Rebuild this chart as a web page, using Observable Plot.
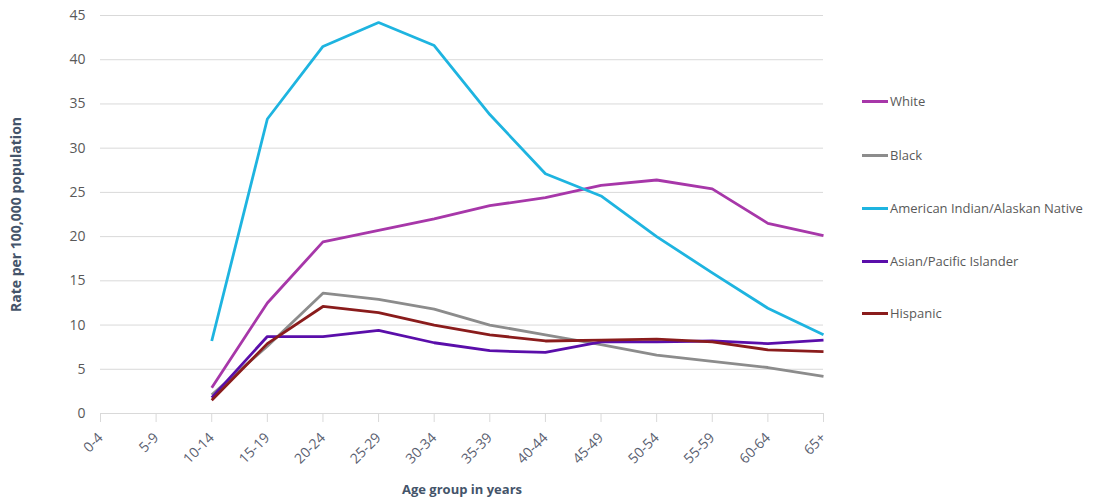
<!DOCTYPE html>
<html>
<head>
<meta charset="utf-8">
<script src="https://cdn.jsdelivr.net/npm/d3@7"></script>
<script src="https://cdn.jsdelivr.net/npm/@observablehq/plot@0.6"></script>
<style>
  html, body { margin: 0; padding: 0; background: #fff; }
  #wrap { position: relative; width: 1099px; height: 500px; }
  #legend { position: absolute; left: 862px; top: 0; font-family: "Open Sans", sans-serif; font-size: 13px; color: #595959; }
  .item { position: absolute; left: 0; display: flex; align-items: center; white-space: nowrap; transform: translateY(-50%); }
  .swatch { width: 26px; height: 3px; margin-right: 2px; }
</style>
</head>
<body>
<div id="wrap"><div id="legend"></div></div>
<script>
const ages = ["0-4","5-9","10-14","15-19","20-24","25-29","30-34","35-39","40-44","45-49","50-54","55-59","60-64","65+"];
const series = ["White","Black","American Indian/Alaskan Native","Asian/Pacific Islander","Hispanic"];
const colors = ["#A737A9","#8C8C8C","#1EB4E0","#5A0EAA","#8A1C1C"];
// values start at 10-14 (null = no data)
const white    = [null,null,2.9,12.5,19.4,20.7,22.0,23.5,24.4,25.8,26.4,25.4,21.5,20.1];
const black    = [null,null,2.1,7.6,13.6,12.9,11.8,10.0,8.9,7.8,6.6,5.9,5.2,4.2];
const aian     = [null,null,8.2,33.3,41.5,44.2,41.6,33.8,27.1,24.6,20.0,15.9,11.9,8.9];
const asian    = [null,null,1.8,8.7,8.7,9.4,8.0,7.1,6.9,8.1,8.1,8.2,7.9,8.3];
const hispanic = [null,null,1.5,7.9,12.1,11.4,10.0,8.9,8.2,8.3,8.4,8.1,7.2,7.0];
const yTicks = [0,5,10,15,20,25,30,35,40,45];

const valueArrays = [white, black, aian, asian, hispanic];
const rows = [];
series.forEach((s, i) => {
  valueArrays[i].forEach((v, j) => {
    if (v != null) rows.push({series: s, age: ages[j], value: v});
  });
});

const chart = Plot.plot({
  width: 1099,
  height: 500,
  marginLeft: 100,
  marginRight: 276,
  marginTop: 15,
  marginBottom: 87,
  style: {fontFamily: "'Open Sans', sans-serif", fontSize: "13px", color: "#595959", background: "#fff"},
  x: {type: "point", domain: ages, padding: 0, round: false},
  y: {domain: [0, 45]},
  color: {domain: series, range: colors},
  marks: [
    Plot.gridY(yTicks, {stroke: "#D9D9D9", strokeOpacity: 1, strokeWidth: 1}),
    Plot.ruleY([0], {stroke: "#D9D9D9", strokeWidth: 1}),
    Plot.axisY({ticks: yTicks, tickSize: 0, tickPadding: 15, label: "Rate per 100,000 population", labelAnchor: "center", labelArrow: "none", labelOffset: 89, fill: "#595959", fontSize: 14}),
    Plot.axisX({tickRotate: -45, tickSize: 9, stroke: "#D9D9D9", tickPadding: 13, label: null, fill: "#5A6070", fontSize: 14}),
    Plot.axisX({ticks: [], tickSize: 0, label: "Age group in years", labelAnchor: "center", labelArrow: "none", labelOffset: 80}),
    Plot.line(rows, {x: "age", y: "value", z: "series", stroke: "series", strokeWidth: 2.8, strokeLinejoin: "round", strokeLinecap: "butt"})
  ]
});

// style axis titles bold
chart.querySelectorAll("g[aria-label='y-axis label'] text, g[aria-label='x-axis label'] text").forEach(t => {
  t.setAttribute("font-weight", "bold");
  t.setAttribute("fill", "#44546A");
});
document.getElementById("wrap").prepend(chart);
chart.style.position = "absolute"; chart.style.left = "0"; chart.style.top = "0";

const legendY = [101, 155, 208, 261, 313];
const legend = document.getElementById("legend");
series.forEach((s, i) => {
  const it = document.createElement("div");
  it.className = "item";
  it.style.top = legendY[i] + "px";
  const sw = document.createElement("span");
  sw.className = "swatch";
  sw.style.background = colors[i];
  const tx = document.createElement("span");
  tx.textContent = s;
  it.append(sw, tx);
  legend.append(it);
});
</script>
</body>
</html>
